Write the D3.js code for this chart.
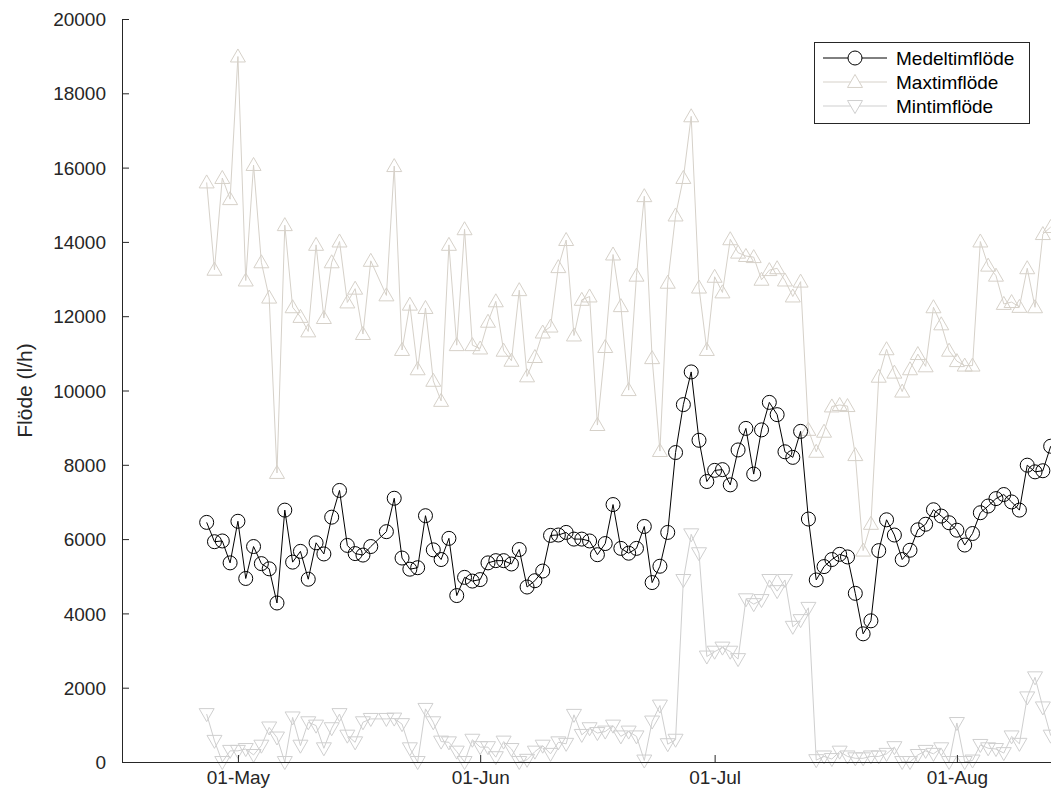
<!DOCTYPE html>
<html><head><meta charset="utf-8">
<script src="https://cdn.jsdelivr.net/npm/d3@7"></script>
<style>body{margin:0;background:#fff;overflow:hidden}</style>
</head><body>
<svg id="c" width="1051" height="796"></svg>
<script>
// ---- data ----
const startDate = "2023-04-27";
const endDate = "2023-08-13";
const missingDates = ["2023-05-19"];
const seriesNames = ["Medeltimflöde", "Maxtimflöde", "Mintimflöde"];
const medel = [6450,5930,5950,5360,6480,4940,5800,5340,5200,4280,6780,5380,5670,4920,5900,5600,6590,7310,5830,5610,5570,5800,
6200,7100,5490,5190,5230,6630,5710,5450,6020,4480,
4970,4870,4910,5360,5420,5420,5330,5720,4710,4880,
5140,6100,6110,6180,6000,6000,5950,5580,5880,6930,
5750,5620,5750,6340,4830,5270,6180,8330,9620,10500,
8660,7550,7850,7870,7460,8400,8980,7750,8940,9680,
9350,8350,8200,8900,6540,4900,5260,5450,5590,5520,
4540,3450,3800,5690,6520,6110,5450,5700,6250,6400,
6790,6620,6440,6240,5840,6150,6710,6890,7090,7200,
7000,6780,7990,7810,7840,8500];
const maxv = [15600,13250,15720,15150,18990,12960,16070,13450,12500,7780,
14450,12240,11980,11590,13920,11950,13450,14010,12370,12740,11520,13490,
12560,16040,11090,12310,10570,12220,10260,9720,13920,11220,
14340,11220,11130,11850,12400,11070,10800,12700,10380,10900,
11560,11720,13320,14050,11480,12440,12530,9070,11170,13660,
12270,10010,13090,15230,10870,8370,12900,14710,15720,17380,
12770,11090,13060,12640,14070,13710,13620,13590,12980,13240,
13290,12960,12530,12930,8940,8350,8890,9570,9610,9580,
8260,5690,6410,10370,11110,10480,9970,10570,10980,10650,
12240,11780,11070,10790,10670,10670,14010,13360,13090,12330,
12380,12250,13290,12240,14210,14400];
const minv = [1290,570,0,300,300,350,190,440,930,660,
0,1200,440,1070,980,370,910,1290,710,530,1070,1160,
1160,1170,1020,370,0,1430,1070,550,530,280,
0,600,400,400,130,550,350,0,60,280,
440,220,530,490,1270,730,910,780,820,980,
690,820,690,40,1090,1520,480,600,4900,6130,
5620,2840,2970,3080,2970,2770,4380,4250,4360,4900,
4600,4900,3640,3820,4150,50,150,80,280,150,
100,100,150,150,220,400,0,0,190,300,
220,370,0,1050,0,40,460,370,350,240,
690,490,1740,2280,1470,710];
const yTicks = [0,2000,4000,6000,8000,10000,12000,14000,16000,18000,20000];
const xTickDates = ["2023-05-01","2023-06-01","2023-07-01","2023-08-01"];

// ---- build ----
const parse = d3.utcParse("%Y-%m-%d");
const miss = new Set(missingDates);
const dates = d3.utcDay.range(parse(startDate), d3.utcDay.offset(parse(endDate), 1))
  .filter(d => !miss.has(d3.utcFormat("%Y-%m-%d")(d)));

const L = 122, R = 1051, T = 19, B = 762;
const x0 = d3.utcHour.offset(parse("2023-04-16"), 4.7);
const x1 = d3.utcHour.offset(parse("2023-08-13"), 1.6);
const x = d3.scaleUtc().domain([x0, x1]).range([L, R]);
const y = d3.scaleLinear().domain([0, 20000]).range([B, T]);

const svg = d3.select("#c");
const font = "'Liberation Sans', Arial, sans-serif";
const axCol = "#262626";
const cMax = "#d6d1c9", cMin = "#cfcfcf", cMean = "#000";

const styles = [
  {vals: maxv, col: cMax, mk: "up"},
  {vals: minv, col: cMin, mk: "down"},
  {vals: medel, col: cMean, mk: "circle"}
];

const line = d3.line().x(d => x(d[0])).y(d => y(d[1]));
const tri = (cx, cy, up, s) => {
  const h = s * 0.866;
  return up
    ? `M${cx},${cy - h*0.58}L${cx + s/2},${cy + h*0.42}L${cx - s/2},${cy + h*0.42}Z`
    : `M${cx},${cy + h*0.58}L${cx + s/2},${cy - h*0.42}L${cx - s/2},${cy - h*0.42}Z`;
};

const g = svg.append("g");
styles.forEach(s => {
  const pts = dates.map((d, i) => [d, s.vals[i]]);
  g.append("path").attr("d", line(pts)).attr("fill", "none")
    .attr("stroke", s.col).attr("stroke-width", 1);
  if (s.mk === "circle") {
    g.selectAll(null).data(pts).enter().append("circle")
      .attr("cx", d => x(d[0])).attr("cy", d => y(d[1]))
      .attr("r", 7)
      .attr("fill", "none").attr("stroke", s.col).attr("stroke-width", 1);
  } else {
    g.selectAll(null).data(pts).enter().append("path")
      .attr("d", d => tri(x(d[0]), y(d[1]), s.mk === "up", 15))
      .attr("fill", "none").attr("stroke", s.col).attr("stroke-width", 1);
  }
});

// axes
const yAxis = d3.axisLeft(y).tickValues(yTicks).tickSize(-7).tickPadding(16).tickFormat(d3.format("d"));
const ya = svg.append("g").attr("transform", `translate(${L},0)`).call(yAxis);
const xAxis = d3.axisBottom(x).tickValues(xTickDates.map(parse)).tickSize(-7).tickPadding(9)
  .tickFormat(d3.utcFormat("%d-%b"));
const xa = svg.append("g").attr("transform", `translate(0,${B})`).call(xAxis);
[ya, xa].forEach(a => {
  a.select(".domain").attr("stroke", axCol).attr("stroke-width", 1);
  a.selectAll(".tick line").attr("stroke", axCol);
  a.selectAll(".tick text").attr("fill", axCol).attr("font-family", font).attr("font-size", 19);
});
ya.selectAll(".tick text").attr("dy", "0.35em");

svg.append("text").attr("transform", `translate(25,${(T + B) / 2}) rotate(-90)`)
  .attr("text-anchor", "middle").attr("dy", "0.35em").attr("font-family", font).attr("font-size", 21)
  .attr("fill", axCol).text("Flöde (l/h)");

// legend
const lg = svg.append("g");
lg.append("rect").attr("x", 814.5).attr("y", 42.5).attr("width", 215).attr("height", 81)
  .attr("fill", "#fff").attr("stroke", axCol).attr("stroke-width", 1);
const legItems = [
  {name: seriesNames[0], col: cMean, mk: "circle"},
  {name: seriesNames[1], col: cMax, mk: "up"},
  {name: seriesNames[2], col: cMin, mk: "down"}
];
legItems.forEach((it, i) => {
  const cy = 58 + i * 24;
  lg.append("line").attr("x1", 823).attr("x2", 887).attr("y1", cy).attr("y2", cy)
    .attr("stroke", it.col).attr("stroke-width", 1);
  if (it.mk === "circle") {
    lg.append("circle").attr("cx", 855).attr("cy", cy).attr("r", 7)
      .attr("fill", "#fff").attr("stroke", it.col);
  } else {
    lg.append("path").attr("d", tri(855, cy, it.mk === "up", 15))
      .attr("fill", "#fff").attr("stroke", it.col);
  }
  lg.append("text").attr("x", 896).attr("y", cy).attr("dy", "0.35em")
    .attr("font-family", font).attr("font-size", 19).attr("fill", "#000").text(it.name);
});
</script>
</body></html>
